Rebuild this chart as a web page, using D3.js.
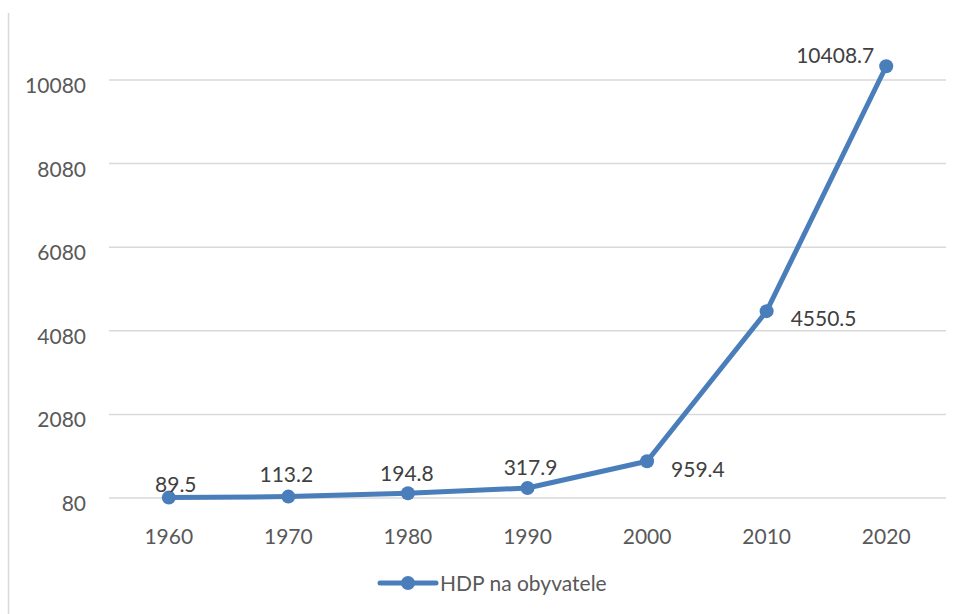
<!DOCTYPE html>
<html>
<head>
    <meta charset="utf-8">
    <script src="https://d3js.org/d3.v7.min.js"></script>
    <style>
        body { margin: 0; background: #fff; }
        text { font-family: Lato, "Open Sans", sans-serif; fill: #595959; }
        .grid line { stroke: #d9d9d9; stroke-width: 1.5px; }
    </style>
</head>
<body>
    <script>
        // Data
        var years = ["1960", "1970", "1980", "1990", "2000", "2010", "2020"];
        var hdp = [89.5, 113.2, 194.8, 317.9, 959.4, 4550.5, 10408.7];
        var yTicks = [80, 2080, 4080, 6080, 8080, 10080];
        var seriesName = "HDP na obyvatele";

        // label placement around each point (dx, dy, anchor)
        var labelPos = [
            [7, -6, "middle"], [-2, -15, "middle"], [-1, -12, "middle"],
            [3, -13, "middle"], [24, 16, "start"], [24, 15, "start"],
            [-12, -3, "end"]
        ];

        var width = 963, height = 614;
        var color = "#4a7ebb";

        var svg = d3.select("body").append("svg")
            .attr("width", width)
            .attr("height", height);

        // left edge of the chart frame
        svg.append("line")
            .attr("x1", 8.5).attr("x2", 8.5)
            .attr("y1", 13).attr("y2", height)
            .attr("stroke", "#d9d9d9")
            .attr("stroke-width", 1.5);

        var x = d3.scalePoint()
            .domain(years)
            .range([109, 946])
            .padding(0.5);

        var y = d3.scaleLinear()
            .domain([80, 10080])
            .range([498, 80]);

        // Gridlines
        svg.append("g")
            .attr("class", "grid")
            .selectAll("line")
            .data(yTicks)
            .enter().append("line")
            .attr("x1", 109).attr("x2", 946)
            .attr("y1", function (d) { return y(d); })
            .attr("y2", function (d) { return y(d); });

        // Y tick labels
        svg.append("g")
            .selectAll("text")
            .data(yTicks)
            .enter().append("text")
            .attr("x", 86)
            .attr("y", function (d) { return y(d) + 13; })
            .attr("text-anchor", "end")
            .style("font-size", "21px")
            .text(function (d) { return d; });

        // X tick labels
        svg.append("g")
            .selectAll("text")
            .data(years)
            .enter().append("text")
            .attr("x", function (d) { return x(d); })
            .attr("y", 544)
            .attr("text-anchor", "middle")
            .style("font-size", "21px")
            .text(function (d) { return d; });

        var points = years.map(function (yr, i) { return { year: yr, v: hdp[i], i: i }; });

        var line = d3.line()
            .x(function (d) { return x(d.year); })
            .y(function (d) { return y(d.v); });

        svg.append("path")
            .datum(points)
            .attr("fill", "none")
            .attr("stroke", color)
            .attr("stroke-width", 5)
            .attr("stroke-linejoin", "round")
            .attr("stroke-linecap", "round")
            .attr("d", line);

        svg.append("g")
            .selectAll("circle")
            .data(points)
            .enter().append("circle")
            .attr("cx", function (d) { return x(d.year); })
            .attr("cy", function (d) { return y(d.v); })
            .attr("r", 7)
            .attr("fill", color);

        // Data labels
        svg.append("g")
            .selectAll("text")
            .data(points)
            .enter().append("text")
            .attr("x", function (d) { return x(d.year) + labelPos[d.i][0]; })
            .attr("y", function (d) { return y(d.v) + labelPos[d.i][1]; })
            .attr("text-anchor", function (d) { return labelPos[d.i][2]; })
            .style("font-size", "21px")
            .style("fill", "#404040")
            .text(function (d) { return d.v; });

        // Legend
        var legend = svg.append("g");
        legend.append("line")
            .attr("x1", 380).attr("x2", 436)
            .attr("y1", 583).attr("y2", 583)
            .attr("stroke", color)
            .attr("stroke-width", 5)
            .attr("stroke-linecap", "round");
        legend.append("circle")
            .attr("cx", 408).attr("cy", 583)
            .attr("r", 7)
            .attr("fill", color);
        legend.append("text")
            .attr("x", 440)
            .attr("y", 591)
            .style("font-size", "21px")
            .text(seriesName);
    </script>
</body>
</html>
